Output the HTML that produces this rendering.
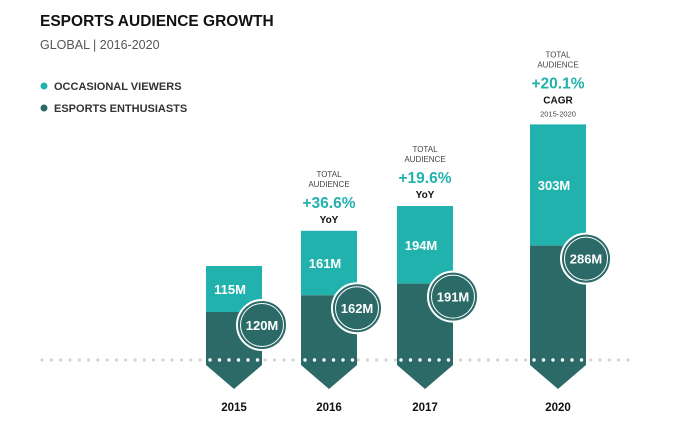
<!DOCTYPE html>
<html><head><meta charset="utf-8"><style>
body{margin:0;background:#fff;width:676px;height:423px;overflow:hidden;font-family:"Liberation Sans",sans-serif}
svg{display:block}
</style></head><body>
<svg width="676" height="423" id="chart">
<text x="40" y="26" font-size="15.5" font-weight="bold" fill="#111">ESPORTS AUDIENCE GROWTH</text>
<text x="40" y="49" font-size="12.5" fill="#555">GLOBAL | 2016-2020</text>
<g>
<circle cx="44" cy="86" r="3.5" fill="#22b2ad"/>
<text x="54" y="90" font-size="11" font-weight="bold" fill="#333">OCCASIONAL VIEWERS</text>
<circle cx="44" cy="108" r="3.5" fill="#2b6a67"/>
<text x="54" y="112" font-size="11" font-weight="bold" fill="#333">ESPORTS ENTHUSIASTS</text>
</g>
<g id="marks"></g>
</svg>
<script>
const years=["2015","2016","2017","2020"];
const enthusiasts=[120,162,191,286];
const occasional=[115,161,194,303];
const growthPct=["","+36.6%","+19.6%","+20.1%"];
const growthType=["","YoY","YoY","CAGR"];
const xLeft=[206,301,397,530];
const baseY=360, scale=0.4, barW=56;
const y=v=>baseY-v*scale;
const NS="http://www.w3.org/2000/svg";
const g=document.getElementById('marks');
function mk(t,a,txt){const e=document.createElementNS(NS,t);for(const k in a)e.setAttribute(k,a[k]);if(txt!=null)e.textContent=txt;g.appendChild(e);return e;}
for(let x=42;x<=634;x+=9.3){const d=mk('circle',{cx:x,cy:baseY,r:1.6,fill:'#d4d4d4'});

}
years.forEach((yr,i)=>{
 const x=xLeft[i], cx=x+barW/2;
 const sy=y(enthusiasts[i]), ty=y(enthusiasts[i]+occasional[i]);
 const occ=mk('rect',{x:x,y:ty,width:barW,height:sy-ty,fill:'#22b2ad'});
 
 
 const en=mk('path',{d:`M${x},${sy}H${x+barW}V${baseY+5}L${cx},${baseY+29}L${x},${baseY+5}Z`,fill:'#2b6a67'});
 
 
 for(let k=0;k<6;k++){const d=mk('circle',{cx:x+4+k*9.5,cy:baseY,r:1.7,fill:'#fff'});
 
 }
 const ol=mk('text',{x:cx-4,y:(ty+sy)/2+5,'font-size':13,'font-weight':'bold',fill:'#fff','text-anchor':'middle'},occasional[i]+'M');
 
 
 const ccx=x+barW, ccy=sy+13;
 const c=mk('circle',{cx:ccx,cy:ccy,r:25,fill:'#2b6a67',stroke:'#fff','stroke-width':2});
 
 
 const c2=mk('circle',{cx:ccx,cy:ccy,r:21.5,fill:'none',stroke:'#fff','stroke-width':1});
 
 
 const el=mk('text',{x:ccx,y:ccy+5,'font-size':13,'font-weight':'bold',fill:'#fff','text-anchor':'middle'},enthusiasts[i]+'M');
 
 
 const yl=mk('text',{x:cx,y:411,'font-size':11.5,'font-weight':'bold',fill:'#111','text-anchor':'middle'},yr);
 
 
 if(growthPct[i]){
  const off=growthType[i]==='CAGR'?13:0;
  const t1=mk('text',{x:cx,y:ty-54-off,'font-size':8,fill:'#444','text-anchor':'middle'},'TOTAL');
  
  
  const t2=mk('text',{x:cx,y:ty-44-off,'font-size':8,fill:'#444','text-anchor':'middle'},'AUDIENCE');
  
  
  const p=mk('text',{x:cx,y:ty-23-off,'font-size':15.5,'font-weight':'bold',fill:'#22b2ad','text-anchor':'middle'},growthPct[i]);
  
  
  const tt=mk('text',{x:cx,y:ty-8-off,'font-size':10,'font-weight':'bold',fill:'#111','text-anchor':'middle'},growthType[i]);
  
  
  if(off){const s=mk('text',{x:cx,y:ty-8,'font-size':7.5,fill:'#444','text-anchor':'middle'},'2015-2020');
  
  }
 }
});
</script>
</body></html>
